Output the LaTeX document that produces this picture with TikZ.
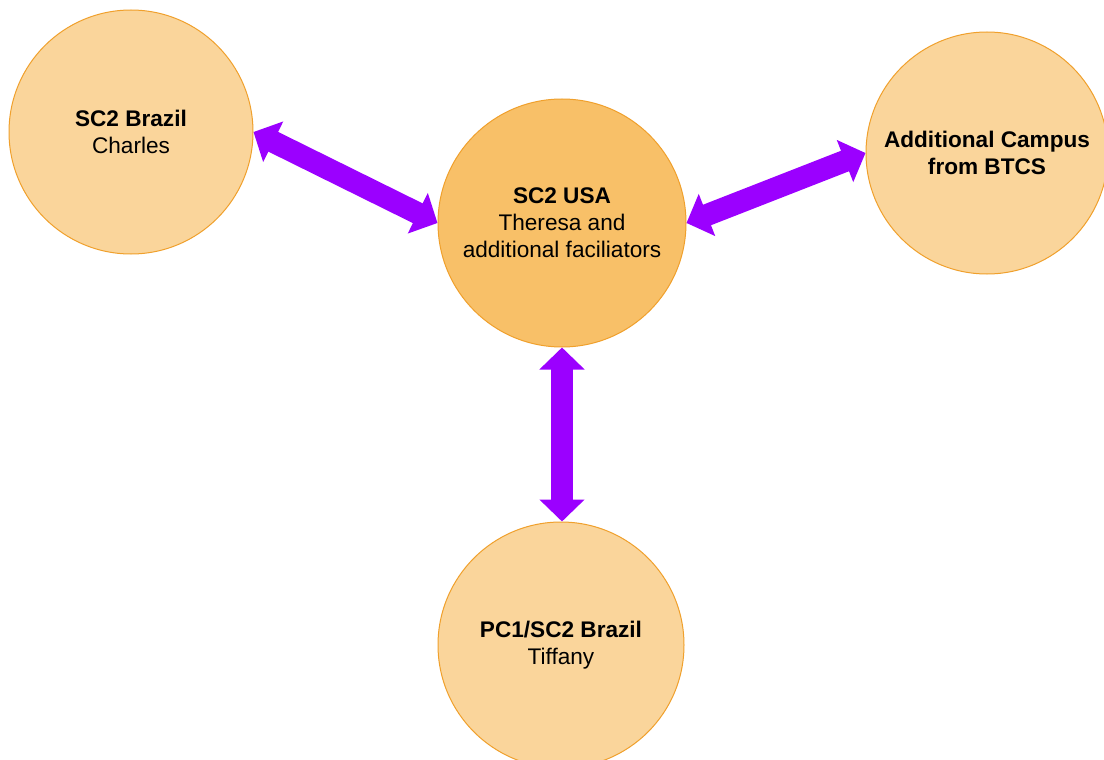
\documentclass[tikz,border=0pt]{standalone}
\usepackage{fontspec}
\setmainfont{Liberation Sans}
\usetikzlibrary{arrows.meta}
\definecolor{softfill}{HTML}{FAD59B}
\definecolor{hubfill}{HTML}{F8C068}
\definecolor{ringline}{HTML}{F0A02C}
\definecolor{linkpurple}{HTML}{9B00FF}
\tikzset{
  site/.style={circle, draw=ringline, line width=1pt, fill=softfill, inner sep=0pt,
    align=center, font=\fontsize{22.6}{27}\selectfont},
  hub/.style={site, fill=hubfill},
  biglink/.style={draw=linkpurple, line width=22pt,
    {Triangle[length=22pt,width=44pt]}-{Triangle[length=22pt,width=44pt]}, fill=linkpurple}
}
\begin{document}
\begin{tikzpicture}[x=1pt,y=-1pt]
  \useasboundingbox (0,0) rectangle (1104,760);
  \clip (0,0) rectangle (1104,760);
  \fill[white] (0,0) rectangle (1104,760);

  \node[site, minimum size=244pt] (brazil) at (131,132) {\textbf{SC2 Brazil}\\Charles};
  \node[hub, minimum size=248pt] (usa) at (562,223) {\textbf{SC2 USA}\\Theresa and\\additional faciliators};
  \node[site, minimum size=242pt] (btcs) at (987,153) {\textbf{Additional Campus}\\\textbf{from BTCS}};
  \node[site, minimum size=246pt] (pc1) at (561,645) {\textbf{PC1/SC2 Brazil}\\Tiffany};

  \draw[biglink] (brazil.east) -- (usa.west);
  \draw[biglink] (usa.east) -- (btcs.west);
  \draw[biglink] (usa.south) -- (usa.south |- pc1.north);
\end{tikzpicture}
\end{document}
